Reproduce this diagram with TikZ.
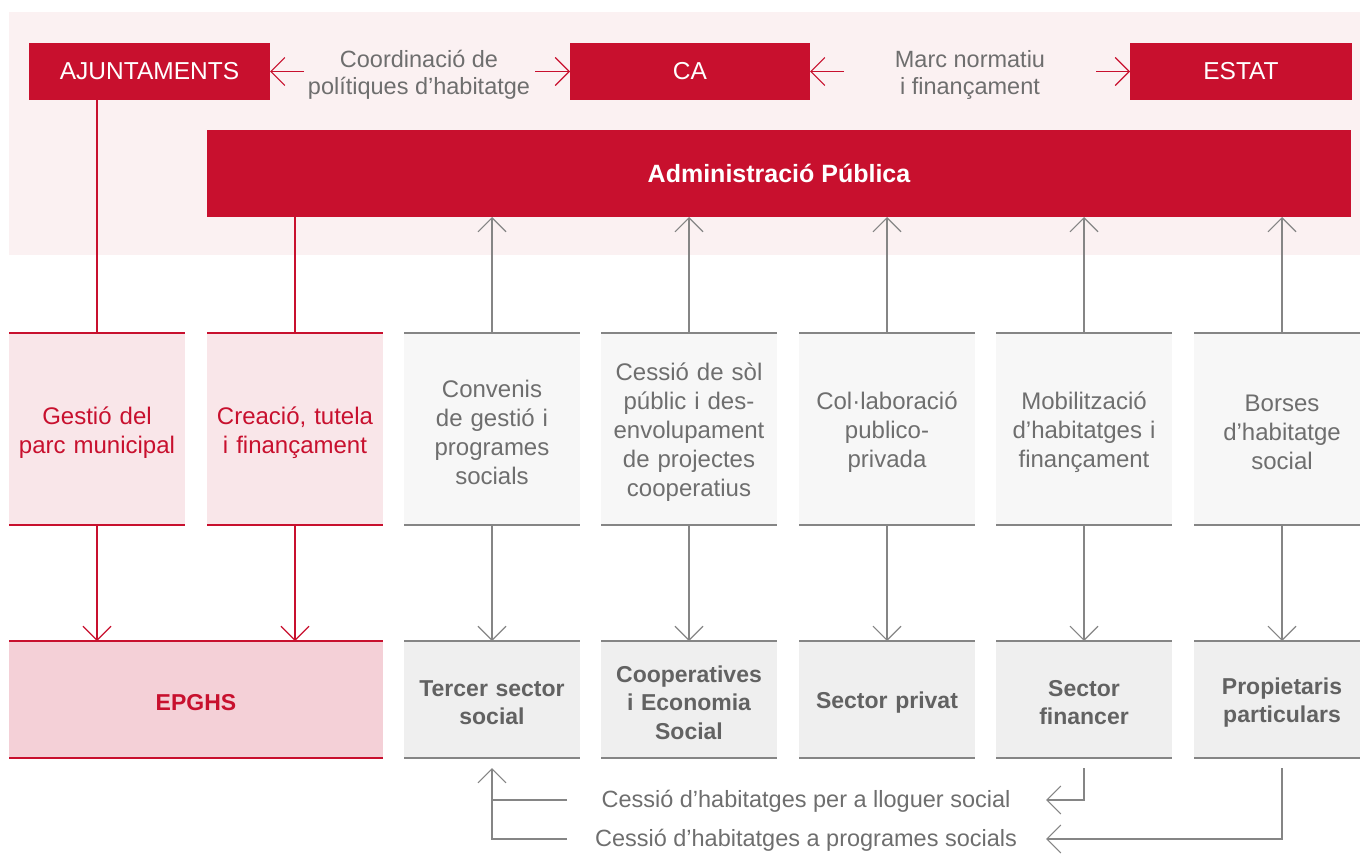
\documentclass[tikz,border=0pt]{standalone}
\usepackage{fontspec}
\setmainfont{Liberation Sans}
\usetikzlibrary{arrows.meta}

\definecolor{brandred}{HTML}{C8102E}
\definecolor{bandpink}{HTML}{FBF1F2}
\definecolor{softpink}{HTML}{F9E6E9}
\definecolor{deeppink}{HTML}{F4D0D7}
\definecolor{paleg}{HTML}{F7F7F7}
\definecolor{lightg}{HTML}{EFEFEF}
\definecolor{txtg}{HTML}{6E6E6E}
\definecolor{boldg}{HTML}{626262}
\definecolor{lineg}{HTML}{858585}

\tikzset{
  every node/.style={inner sep=0pt, outer sep=0pt},
  solidbox/.style={fill=brandred, text=white, minimum height=57,
    font=\fontsize{24.5}{27}\selectfont},
  adminbox/.style={fill=brandred, text=white, minimum height=87,
    minimum width=1144, font=\fontsize{25}{27}\selectfont\bfseries},
  toplabel/.style={text=txtg, align=center, font=\fontsize{23.5}{27}\selectfont},
  % box bodies; their texts sit as centred labels, a little below the middle
  midtext/.style={text width=174, align=center, yshift=-3.5pt,
    font=\fontsize{24}{29}\selectfont},
  lowtext/.style={text width=174, align=center, yshift=-3pt,
    font=\fontsize{23}{28.5}\selectfont\bfseries},
  midred/.style={fill=softpink, minimum width=176, minimum height=192,
    label={[midtext, text=brandred]center:{#1}}},
  midgray/.style={fill=paleg, minimum width=176, minimum height=192,
    label={[midtext, text=txtg]center:{#1}}},
  lowred/.style={fill=deeppink, minimum width=374, minimum height=117,
    label={[lowtext, text=brandred]center:{#1}}},
  lowgray/.style={fill=lightg, minimum width=176, minimum height=117,
    label={[lowtext, text=boldg]center:{#1}}},
  flowlabel/.style={text=txtg, font=\fontsize{23.5}{27}\selectfont},
  redrule/.style={draw=brandred, line width=1.6pt},
  grayrule/.style={draw=lineg, line width=1.6pt},
  redline/.style={draw=brandred, line width=1.1pt},
  grayline/.style={draw=lineg, line width=1.1pt},
  barb/.style={-{Straight Barb[length=14pt, width=28pt]}},
  redarrow/.style={redline, barb},
  grayarrow/.style={grayline, barb},
}

\begin{document}
\begin{tikzpicture}[x=1pt, y=-1pt]
  \useasboundingbox (0,0) rectangle (1360,854);

  % institutional band behind the administrations
  \fill[bandpink] (9,12) rectangle (1360,255);

  % administrations
  \node[solidbox, minimum width=241] (aj) at (149.5,71.5) {AJUNTAMENTS};
  \node[solidbox, minimum width=240] (ca) at (690,71.5) {CA};
  \node[solidbox, minimum width=222] (es) at (1241,71.5) {ESTAT};
  \node[adminbox] (adm) at (779,173.5) {Administració Pública};

  \node[toplabel] (coord) at (419,74.5) {Coordinació de\\polítiques d’habitatge};
  \node[toplabel] (marc) at (970,74.5) {Marc normatiu\\i finançament};

  \coordinate (c1) at (304,71.5);
  \coordinate (c2) at (535,71.5);
  \coordinate (c3) at (844,71.5);
  \coordinate (c4) at (1096,71.5);
  \draw[redarrow] (c1) -- (aj.east);
  \draw[redarrow] (c2) -- (ca.west);
  \draw[redarrow] (c3) -- (ca.east);
  \draw[redarrow] (c4) -- (es.west);

  % instruments
  \node[midred={Gestió del\\parc municipal}]  (m1) at (97,429) {};
  \node[midred={Creació, tutela\\i finançament}] (m2) at (295,429) {};
  \node[midgray={Convenis\\de gestió i\\programes\\socials}] (m3) at (492,429) {};
  \node[midgray={Cessió de sòl\\públic i des-\\envolupament\\de projectes\\cooperatius}] (m4) at (689,429) {};
  \node[midgray={Col·laboració\\publico-\\privada}] (m5) at (887,429) {};
  \node[midgray={Mobilització\\d’habitatges i\\finançament}] (m6) at (1084,429) {};
  \node[midgray={Borses\\d’habitatge\\social}] (m7) at (1282,429) {};

  % agents
  \node[lowred={EPGHS}] (ep) at (196,699.5) {};
  \node[lowgray={Tercer sector\\social}] (b3) at (492,699.5) {};
  \node[lowgray={Cooperatives\\i Economia\\Social}] (b4) at (689,699.5) {};
  \node[lowgray={Sector privat}] (b5) at (887,699.5) {};
  \node[lowgray={Sector\\financer}] (b6) at (1084,699.5) {};
  \node[lowgray={Propietaris\\particulars}] (b7) at (1282,699.5) {};

  % top and bottom rules of the boxes
  \foreach \n in {m1,m2,ep}
    \draw[redrule] (\n.north west) -- (\n.north east) (\n.south west) -- (\n.south east);
  \foreach \n in {m3,m4,m5,m6,m7,b3,b4,b5,b6,b7}
    \draw[grayrule] (\n.north west) -- (\n.north east) (\n.south west) -- (\n.south east);

  % links from the administrations
  \draw[redline] (m1.north) -- (m1.north |- aj.south);
  \draw[redline] (m2.north) -- (m2.north |- adm.south);
  \foreach \n in {m3,m4,m5,m6,m7}
    \draw[grayarrow] (\n.north) -- (\n.north |- adm.south);

  % links from instruments to agents
  \draw[redarrow] (m1.south) -- (m1.south |- ep.north);
  \draw[redarrow] (m2.south) -- (m2.south |- ep.north);
  \draw[grayarrow] (m3.south) -- (b3.north);
  \draw[grayarrow] (m4.south) -- (b4.north);
  \draw[grayarrow] (m5.south) -- (b5.north);
  \draw[grayarrow] (m6.south) -- (b6.north);
  \draw[grayarrow] (m7.south) -- (b7.north);

  % housing transfers
  \node[flowlabel] (f1) at (806,801) {Cessió d’habitatges per a lloguer social};
  \node[flowlabel] (f2) at (806,840) {Cessió d’habitatges a programes socials};
  \coordinate (t1) at (1046,800);
  \coordinate (t2) at (1046,839);
  \coordinate (s1) at (567,800);
  \coordinate (s2) at (567,839);
  \draw[grayarrow] ([yshift=-10pt]b6.south) |- (t1);
  \draw[grayarrow] ([yshift=-10pt]b7.south) |- (t2);
  \draw[grayline] (s1) -- (s1 -| b3.south);
  \draw[grayarrow] (s2) -| ([yshift=-10pt]b3.south);
\end{tikzpicture}
\end{document}
